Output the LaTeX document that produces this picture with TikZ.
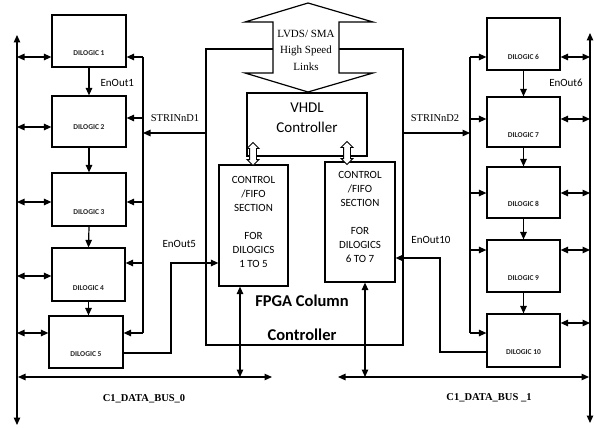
\documentclass[tikz,border=0pt]{standalone}
\usepackage{fontspec}
\setmainfont{Liberation Serif}
\newfontfamily\calfont{Carlito}
\usetikzlibrary{arrows.meta,shapes.arrows}
\tikzset{
  box/.style={draw, fill=white, inner sep=0pt},
  dlabel/.style={font=\calfont\bfseries\fontsize{7.5}{8}\selectfont, text=black!85, inner sep=0pt},
  sig/.style={font=\calfont\fontsize{11}{12}\selectfont, inner sep=0pt},
  strin/.style={font=\fontsize{10.5}{12}\selectfont, inner sep=0pt},
  busl/.style={font=\bfseries\fontsize{10.5}{12}\selectfont, inner sep=0pt},
  ctext/.style={font=\calfont\fontsize{11}{14}\selectfont, align=center, inner sep=0pt},
  hollow/.style={draw, fill=white, shape=double arrow, rotate=90, minimum height=23pt,
    inner xsep=0pt, inner ysep=3pt, double arrow head extend=2.5pt, line width=0.9pt},
}
\begin{document}
\begin{tikzpicture}[x=1pt,y=-1pt, line width=1.2pt, >={Triangle[length=7.5pt,width=6.5pt]}]
\useasboundingbox (0,0) rectangle (594,428);

% ---------- FPGA box ----------
\node[box, minimum width=197pt, minimum height=296pt] (fpga) at (304.5,197) {};

% big LVDS arrow
\draw[fill=white] (308,3) -- (373,22) -- (339,22) -- (339,73) -- (373,73) -- (308,92)
  -- (245,73) -- (273,73) -- (273,22) -- (245,22) -- cycle;
\node[font=\fontsize{11}{16.5}\selectfont, align=center, inner sep=0pt] (links) at (306,50)
  {LVDS/ SMA\\High Speed\\Links};

% VHDL controller
\node[box, minimum width=120pt, minimum height=63pt] (vhdl) at (307,124.5) {};
\node[font=\calfont\fontsize{15}{20}\selectfont, align=center, inner sep=0pt] (vhdlt) at (307,118)
  {VHDL\\Controller};

% control sections
\node[box, minimum width=69pt, minimum height=121pt] (c1) at (253.5,225.5) {};
\node[ctext] (c1t) at (253.5,221.5) {CONTROL\\/FIFO\\SECTION\\[14pt]FOR\\DILOGICS\\1 TO 5};
\node[box, minimum width=70pt, minimum height=120pt] (c2) at (360,222) {};
\node[ctext] (c2t) at (360,216.5) {CONTROL\\/FIFO\\SECTION\\[14pt]FOR\\DILOGICS\\6 TO 7};

\node[hollow] (h1) at (253,154) {};
\node[hollow] (h2) at (347,153) {};

\node[font=\calfont\bfseries\fontsize{16.5}{34}\selectfont, align=center, inner sep=0pt] (fpgat) at (302,318)
  {FPGA Column\\Controller};

% ---------- left DILOGICs ----------
\node[box, minimum width=74pt, minimum height=52pt] (d1) at (89,41) {};
\node[box, minimum width=74pt, minimum height=51pt] (d2) at (89,121.5) {};
\node[box, minimum width=74pt, minimum height=53pt] (d3) at (89,199.5) {};
\node[box, minimum width=73pt, minimum height=53pt] (d4) at (88.5,274.5) {};
\node[box, minimum width=74pt, minimum height=52pt] (d5) at (86,342) {};
\node[dlabel] (l1) at (89,53) {DILOGIC 1};
\node[dlabel] (l2) at (89,127) {DILOGIC 2};
\node[dlabel] (l3) at (89,212) {DILOGIC 3};
\node[dlabel] (l4) at (88.5,288) {DILOGIC 4};
\node[dlabel] (l5) at (86,354) {DILOGIC 5};

\draw[->] (d1.south) -- (d2.north);
\draw[->] (d2.south) -- (d3.north);
\draw[->] (d3.south) -- (d4.north);
\draw[->] (d4.south) -- (d4.south |- d5.north);

% left data bus
\coordinate (lbt) at (17,35);
\coordinate (lbb) at (17,425);
\draw[<->] (lbt) -- (lbb);
\foreach \n/\y in {1/57,2/127,3/202,4/276,5/333} {
  \coordinate (lb\n) at (17,\y);
  \draw[<->] (lb\n) -- (lb\n -| d\n.west);
}
% left strobe line
\foreach \n/\y in {1/57,2/118,3/202,4/263,5/333} {
  \coordinate (lf\n) at (143,\y);
  \draw[->] (lf\n) -- (lf\n -| d\n.east);
}
\draw (lf1) -- (lf5);
\coordinate (s1) at (143,133);
\draw[->] (s1 -| fpga.west) -- (s1);

% EnOut5
\coordinate (e5) at (123,353);
\coordinate (en5) at (171,263);
\draw[->] (e5) -| (en5) -- (en5 -| c1.west);

% ---------- right DILOGICs ----------
\node[box, minimum width=73pt, minimum height=52pt] (d6) at (523.5,44) {};
\node[box, minimum width=73pt, minimum height=50pt] (d7) at (523.5,122) {};
\node[box, minimum width=73pt, minimum height=51pt] (d8) at (523.5,192.5) {};
\node[box, minimum width=73pt, minimum height=52pt] (d9) at (523.5,266) {};
\node[box, minimum width=73pt, minimum height=53pt] (d10) at (523.5,340.5) {};
\node[dlabel] (l6) at (523.5,57) {DILOGIC 6};
\node[dlabel] (l7) at (523.5,135) {DILOGIC 7};
\node[dlabel] (l8) at (523.5,204) {DILOGIC 8};
\node[dlabel] (l9) at (523.5,278) {DILOGIC 9};
\node[dlabel] (l10) at (523.5,352) {DILOGIC 10};

\draw[->] (d6.south) -- (d7.north);
\draw[->] (d7.south) -- (d8.north);
\draw[->] (d8.south) -- (d9.north);
\draw[->] (d9.south) -- (d10.north);

% right data bus
\coordinate (rbt) at (590,33);
\coordinate (rbb) at (590,423);
\draw[<->] (rbt) -- (rbb);
\foreach \n/\y in {6/57,7/119,8/193,9/250,10/323} {
  \coordinate (rb\n) at (590,\y);
  \draw[<->] (rb\n) -- (rb\n -| d\n.east);
}
% right strobe line
\foreach \n/\y in {6/57,7/119,8/193,9/250,10/333} {
  \coordinate (rf\n) at (470,\y);
  \draw[->] (rf\n) -- (rf\n -| d\n.west);
}
\draw (rf6) -- (rf10);
\coordinate (s2) at (470,133);
\draw[->] (s2 -| fpga.east) -- (s2);

% EnOut10
\coordinate (e10) at (487,352);
\coordinate (en10) at (440,258);
\draw[->] (e10) -| (en10) -- (en10 -| c2.east);

% ---------- column buses ----------
\coordinate (bus0l) at (18,377);
\coordinate (bus0r) at (272,377);
\draw[<->] (bus0l) -- (bus0r);
\coordinate (bus1l) at (338,377);
\coordinate (bus1r) at (589,377);
\draw[<->] (bus1l) -- (bus1r);
\coordinate (b0) at (240,377);
\draw[<->] (b0 |- c1.south) -- (b0);
\coordinate (b1) at (365,377);
\draw[<->] (b1 |- c2.south) -- (b1);

% ---------- labels ----------
\node[sig, anchor=west] (eo1) at (100,83) {EnOut1};
\node[strin] (st1) at (175,118) {STRINnD1};
\node[sig, anchor=west] (eo5) at (162,244) {EnOut5};
\node[strin] (st2) at (435,118) {STRINnD2};
\node[sig] (eo6) at (566,83) {EnOut6};
\node[sig] (eo10) at (431,240) {EnOut10};
\node[busl] (bl0) at (144,399) {C1\_DATA\_BUS\_0};
\node[busl] (bl1) at (489,398) {C1\_DATA\_BUS \_1};
\end{tikzpicture}
\end{document}
